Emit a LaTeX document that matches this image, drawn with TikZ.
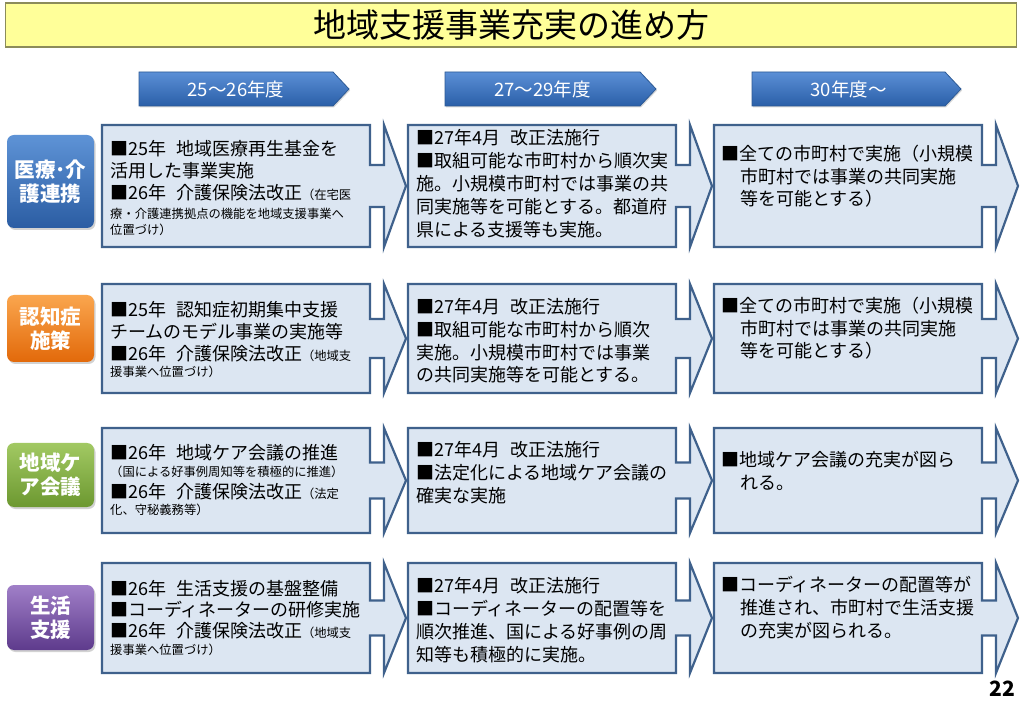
\documentclass[tikz,border=0pt]{standalone}
\usepackage{fontspec}
\setmainfont{Noto Sans CJK JP}
\usetikzlibrary{shadows}
\definecolor{boxfill}{HTML}{DCE6F2}
\definecolor{boxline}{HTML}{3F618C}
\definecolor{titlefill}{HTML}{FFFF99}
\definecolor{titleline}{HTML}{8C8C5A}
\definecolor{hdtop}{HTML}{5B8FD6}
\definecolor{hdbot}{HTML}{2A5FA8}
\definecolor{hdline}{HTML}{2D5A95}
\definecolor{bluetop}{HTML}{5E93D6}
\definecolor{bluebot}{HTML}{2B5DA3}
\definecolor{orgtop}{HTML}{FAA64E}
\definecolor{orgbot}{HTML}{E2690A}
\definecolor{grntop}{HTML}{A2C963}
\definecolor{grnbot}{HTML}{6C9830}
\definecolor{purtop}{HTML}{A07FC8}
\definecolor{purbot}{HTML}{5E3B8C}
\newcommand\bigf{\fontsize{18}{22}\selectfont}
\newcommand\smf{\fontsize{12.3}{15}\selectfont}
\newcommand\tline[4]{\node[tl,font=\bigf,anchor=base west] (#1) at (#2,#3+6.8) {#4};}
\newcommand\sline[4]{\node[tl,font=\smf,anchor=base west] (#1) at (#2,#3+4.6) {#4};}
\newcommand\arrbox[4]{%
  \pgfmathsetmacro\rmid{(#2+#3)/2}%
  \draw[abox] (#1,#2) -- (#1+268,#2) -- (#1+268,\rmid-#4) -- (#1+282,\rmid-#4)
    -- (#1+282,#2) -- (#1+304,\rmid) -- (#1+282,#3) -- (#1+282,\rmid+#4)
    -- (#1+268,\rmid+#4) -- (#1+268,#3) -- (#1,#3) -- cycle;}
\newcommand\harrow[4]{%
  \path[harr] (#1,72) -- (#2-16,72) -- (#2,89) -- (#2-16,106) -- (#1,106) -- cycle;
  \node[htxt] (#3) at ({(#1+#2-16)/2},89) {#4};}
\begin{document}
\begin{tikzpicture}[x=1pt,y=-1pt,
  abox/.style={draw=boxline,fill=boxfill,line width=2.2pt,line join=miter},
  tl/.style={inner sep=0pt,text=black},
  harr/.style={draw=hdline,line width=0.8pt,top color=hdtop,bottom color=hdbot,
    drop shadow={opacity=0.3,shadow xshift=1pt,shadow yshift=-1.5pt}},
  htxt/.style={text=white,font=\fontsize{18.5}{21}\selectfont,inner sep=0pt},
  lab/.style={rounded corners=7pt,minimum width=87pt,text=white,align=center,
    font=\fontsize{20.5}{24}\selectfont\bfseries,inner sep=0pt,
    drop shadow={opacity=0.35,shadow xshift=1.5pt,shadow yshift=-2pt}}]
\useasboundingbox (0,0) rectangle (1023,708);
\fill[white] (0,0) rectangle (1023,708);
% title
\node[draw=titleline,fill=titlefill,line width=1.5pt,minimum width=1011pt,
  minimum height=44pt,inner sep=0pt,font=\fontsize{33}{36}\selectfont] (title) at (511,25) {地域支援事業充実の進め方};
% headers
\harrow{139}{349}{h1}{25〜26年度}
\harrow{445}{656}{h2}{27〜29年度}
\harrow{752}{961}{h3}{30年度〜}
% labels
\node[lab,top color=bluetop,bottom color=bluebot,minimum height=93pt] (l1) at (50.5,181.5) {医療･介\\護連携};
\node[lab,top color=orgtop,bottom color=orgbot,minimum height=67pt] (l2) at (50.5,328.5) {認知症\\施策};
\node[lab,top color=grntop,bottom color=grnbot,minimum height=64pt] (l3) at (50.5,475) {地域ケ\\ア会議};
\node[lab,top color=purtop,bottom color=purbot,minimum height=65pt] (l4) at (50.5,617.5) {生活\\支援};
% boxes
\foreach \cx in {102,408,714}{
  \arrbox{\cx}{125}{247}{21}
  \arrbox{\cx}{284}{393}{19.5}
  \arrbox{\cx}{428}{533}{18}
  \arrbox{\cx}{563}{673}{17.5}
}
% row 1
\tline{a11}{110}{149}{■25年\hspace{0.55em}地域医療再生基金を}
\tline{a12}{110}{171}{活用した事業実施}
\tline{a13}{110}{193}{■26年\hspace{0.55em}介護保険法改正{\smf（在宅医}}
\sline{a14}{110}{214}{療・介護連携拠点の機能を地域支援事業へ}
\sline{a15}{110}{230}{位置づけ）}
\tline{b11}{416}{138}{■27年4月\hspace{0.55em}改正法施行}
\tline{b12}{416}{161}{■取組可能な市町村から順次実}
\tline{b13}{416}{184}{施。小規模市町村では事業の共}
\tline{b14}{416}{207}{同実施等を可能とする。都道府}
\tline{b15}{416}{230}{県による支援等も実施。}
\tline{c11}{721}{154}{■全ての市町村で実施（小規模}
\tline{c12}{740}{177}{市町村では事業の共同実施}
\tline{c13}{740}{199}{等を可能とする）}
% row 2
\tline{a21}{110}{310}{■25年\hspace{0.55em}認知症初期集中支援}
\tline{a22}{110}{332}{チームのモデル事業の実施等}
\tline{a23}{110}{354}{■26年\hspace{0.55em}介護保険法改正{\smf（地域支}}
\sline{a24}{110}{372}{援事業へ位置づけ）}
\tline{b21}{416}{307}{■27年4月\hspace{0.55em}改正法施行}
\tline{b22}{416}{330}{■取組可能な市町村から順次}
\tline{b23}{416}{353}{実施。小規模市町村では事業}
\tline{b24}{416}{375}{の共同実施等を可能とする。}
\tline{c21}{721}{306}{■全ての市町村で実施（小規模}
\tline{c22}{740}{329}{市町村では事業の共同実施}
\tline{c23}{740}{351}{等を可能とする）}
% row 3
\tline{a31}{110}{453}{■26年\hspace{0.55em}地域ケア会議の推進}
\sline{a32}{110}{472}{（国による好事例周知等を積極的に推進）}
\tline{a33}{110}{492}{■26年\hspace{0.55em}介護保険法改正{\smf（法定}}
\sline{a34}{110}{510}{化、守秘義務等）}
\tline{b31}{416}{450}{■27年4月\hspace{0.55em}改正法施行}
\tline{b32}{416}{473}{■法定化による地域ケア会議の}
\tline{b33}{416}{496}{確実な実施}
\tline{c31}{721}{460}{■地域ケア会議の充実が図ら}
\tline{c32}{740}{483}{れる。}
% row 4
\tline{a41}{110}{589}{■26年\hspace{0.55em}生活支援の基盤整備}
\tline{a42}{110}{610}{■コーディネーターの研修実施}
\tline{a43}{110}{631}{■26年\hspace{0.55em}介護保険法改正{\smf（地域支}}
\sline{a44}{110}{650}{援事業へ位置づけ）}
\tline{b41}{416}{586}{■27年4月\hspace{0.55em}改正法施行}
\tline{b42}{416}{609}{■コーディネーターの配置等を}
\tline{b43}{416}{632}{順次推進、国による好事例の周}
\tline{b44}{416}{655}{知等も積極的に実施。}
\tline{c41}{721}{585}{■コーディネーターの配置等が}
\tline{c42}{740}{608}{推進され、市町村で生活支援}
\tline{c43}{740}{631}{の充実が図られる。}
% page number
\node[inner sep=0pt,font=\fontsize{21}{24}\selectfont\bfseries] (pg) at (1002,689) {22};
\end{tikzpicture}
\end{document}
